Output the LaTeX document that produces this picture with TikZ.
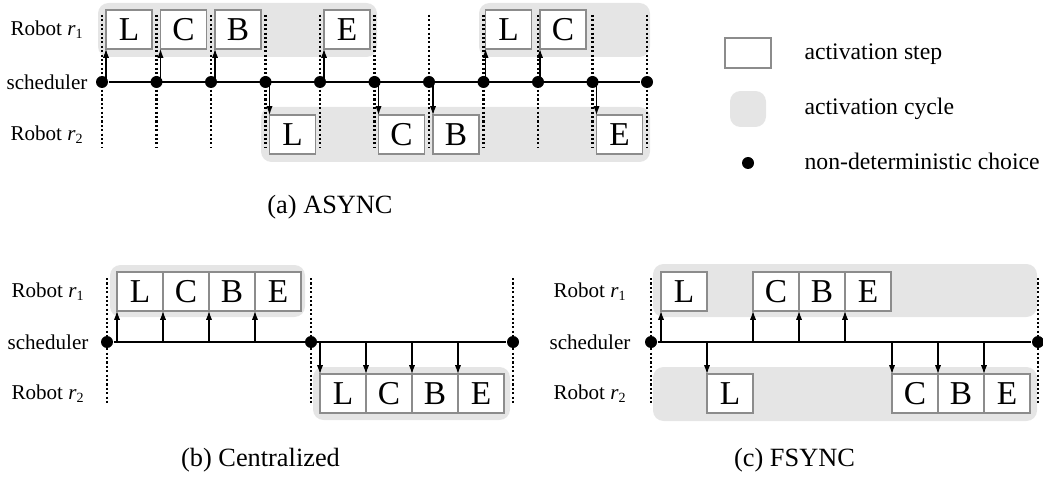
\documentclass[tikz,border=0pt]{standalone}
\usepackage{fontspec}
\setmainfont{Liberation Serif}
\usetikzlibrary{positioning, arrows.meta, backgrounds}

\tikzset{
  stepbox/.style={draw=black!45, line width=0.7pt, fill=white, minimum width=0.92cm,
    minimum height=0.78cm, inner sep=0pt, outer sep=0pt, font=\fontsize{19}{20}\selectfont},
  cyclebg/.style={fill=black!10, rounded corners=6pt},
  choice/.style={circle, fill=black, inner sep=0pt, minimum size=0.24cm},
  tick/.style={line width=1.3pt, dash pattern=on 1.2pt off 1.3pt},
  sched/.style={line width=0.7pt},
  rowlabel/.style={font=\fontsize{12}{14}\selectfont},
  legendtext/.style={anchor=base west, inner sep=0pt, font=\fontsize{13.5}{16}\selectfont},
  caption/.style={font=\fontsize{15}{18}\selectfont},
}

\begin{document}
\begin{tikzpicture}[x=0.02cm, y=-0.02cm, node distance=0pt,
    >={Latex[length=5pt,width=3.5pt]}, every path/.append style={line width=0.6pt}]
    \useasboundingbox (0,0) rectangle (1043,479);

    % (a) ASYNC
    \node[rowlabel] (ar1) at (47,30) {Robot \textit{r}\textsubscript{1}};
    \node[rowlabel] (as) at (47,82) {scheduler};
    \node[rowlabel] (ar2) at (47,135) {Robot \textit{r}\textsubscript{2}};
    \foreach \k in {0,...,10}
        \node[choice] (a\k) at (102+54.5*\k,82) {};
    \node[stepbox] (aL1) at (129,29.5) {L};
    \node[stepbox] (aC1) at (183.5,29.5) {C};
    \node[stepbox] (aB1) at (238,29.5) {B};
    \node[stepbox] (aE1) at (347,29.5) {E};
    \node[stepbox] (aL3) at (508.5,29.5) {L};
    \node[stepbox] (aC3) at (563,29.5) {C};
    \node[stepbox] (aL2) at (292.5,134.5) {L};
    \node[stepbox] (aC2) at (401.5,134.5) {C};
    \node[stepbox] (aB2) at (456,134.5) {B};
    \node[stepbox] (aE2) at (619.5,134.5) {E};
    \draw[sched] (a0) -- (a10);
    \foreach \b in {aL1,aC1,aB1,aE1,aL3,aC3}
        \draw[->] (\b.south west |- a0) -- (\b.south west);
    \foreach \b in {aL2,aC2,aB2,aE2}
        \draw[->] (\b.north west |- a0) -- (\b.north west);
    \node[caption] (acap) at (330,207) {(a) ASYNC};

    % legend
    \node[stepbox, minimum height=0.6cm] (lstep) at (748,53) {};
    \node[cyclebg, minimum size=0.72cm] (lcycle) at (748,109) {};
    \node[choice] (lchoice) at (748,163) {};
    \node[legendtext] (tstep) at (804,59.5) {activation step};
    \node[legendtext] (tcycle) at (804,115) {activation cycle};
    \node[legendtext] (tchoice) at (804,170) {non-deterministic choice};

    % (b) Centralized
    \node[rowlabel] (br1) at (48,292) {Robot \textit{r}\textsubscript{1}};
    \node[rowlabel] (bs) at (48,342) {scheduler};
    \node[rowlabel] (br2) at (48,394) {Robot \textit{r}\textsubscript{2}};
    \node[choice] (b0) at (107,342) {};
    \node[choice] (b1) at (311,342) {};
    \node[choice] (b2) at (513,342) {};
    \node[stepbox] (bL1) at (140,291.5) {L};
    \node[stepbox] (bC1) [right=of bL1] {C};
    \node[stepbox] (bB1) [right=of bC1] {B};
    \node[stepbox] (bE1) [right=of bB1] {E};
    \node[stepbox] (bL2) at (343,393.5) {L};
    \node[stepbox] (bC2) [right=of bL2] {C};
    \node[stepbox] (bB2) [right=of bC2] {B};
    \node[stepbox] (bE2) [right=of bB2] {E};
    \draw[sched] (b0) -- (b2);
    \foreach \b in {bL1,bC1,bB1,bE1}
        \draw[->] (\b.south west |- b0) -- (\b.south west);
    \foreach \b in {bL2,bC2,bB2,bE2}
        \draw[->] (\b.north west |- b0) -- (\b.north west);
    \node[caption] (bcap) at (260.5,460) {(b) Centralized};

    % (c) FSYNC
    \node[rowlabel] (cr1) at (590,292) {Robot \textit{r}\textsubscript{1}};
    \node[rowlabel] (cs) at (590,342) {scheduler};
    \node[rowlabel] (cr2) at (590,394) {Robot \textit{r}\textsubscript{2}};
    \node[choice] (c0) at (651,342) {};
    \node[choice] (c1) at (1038,342) {};
    \node[stepbox] (cL1) at (684,291.5) {L};
    \node[stepbox] (cC1) at (776,291.5) {C};
    \node[stepbox] (cB1) [right=of cC1] {B};
    \node[stepbox] (cE1) [right=of cB1] {E};
    \node[stepbox] (cL2) at (730,393.5) {L};
    \node[stepbox] (cC2) at (915,393.5) {C};
    \node[stepbox] (cB2) [right=of cC2] {B};
    \node[stepbox] (cE2) [right=of cB2] {E};
    \draw[sched] (c0) -- (c1);
    \foreach \b in {cL1,cC1,cB1,cE1}
        \draw[->] (\b.south west |- c0) -- (\b.south west);
    \foreach \b in {cL2,cC2,cB2,cE2}
        \draw[->] (\b.north west |- c0) -- (\b.north west);
    \node[caption] (ccap) at (794.5,460) {(c) FSYNC};

    % activation cycles and time ticks
    \begin{scope}[on background layer]
        \fill[cyclebg] (98,3) rectangle (377,57);
        \fill[cyclebg] (479,3) rectangle (650,57);
        \fill[cyclebg] (261,107) rectangle (650,162);
        \fill[cyclebg] (110,265) rectangle (305,317);
        \fill[cyclebg] (313,367) rectangle (510,420);
        \fill[cyclebg] (653,264) rectangle (1037,317);
        \fill[cyclebg] (653,367) rectangle (1037,421);
        \foreach \k in {0,...,10}
            \draw[tick] (a\k |- 0,15) -- (a\k |- 0,147);
        \foreach \d in {b0,b1,b2,c0,c1}
            \draw[tick] (\d |- 0,278) -- (\d |- 0,404);
    \end{scope}
\end{tikzpicture}
\end{document}
